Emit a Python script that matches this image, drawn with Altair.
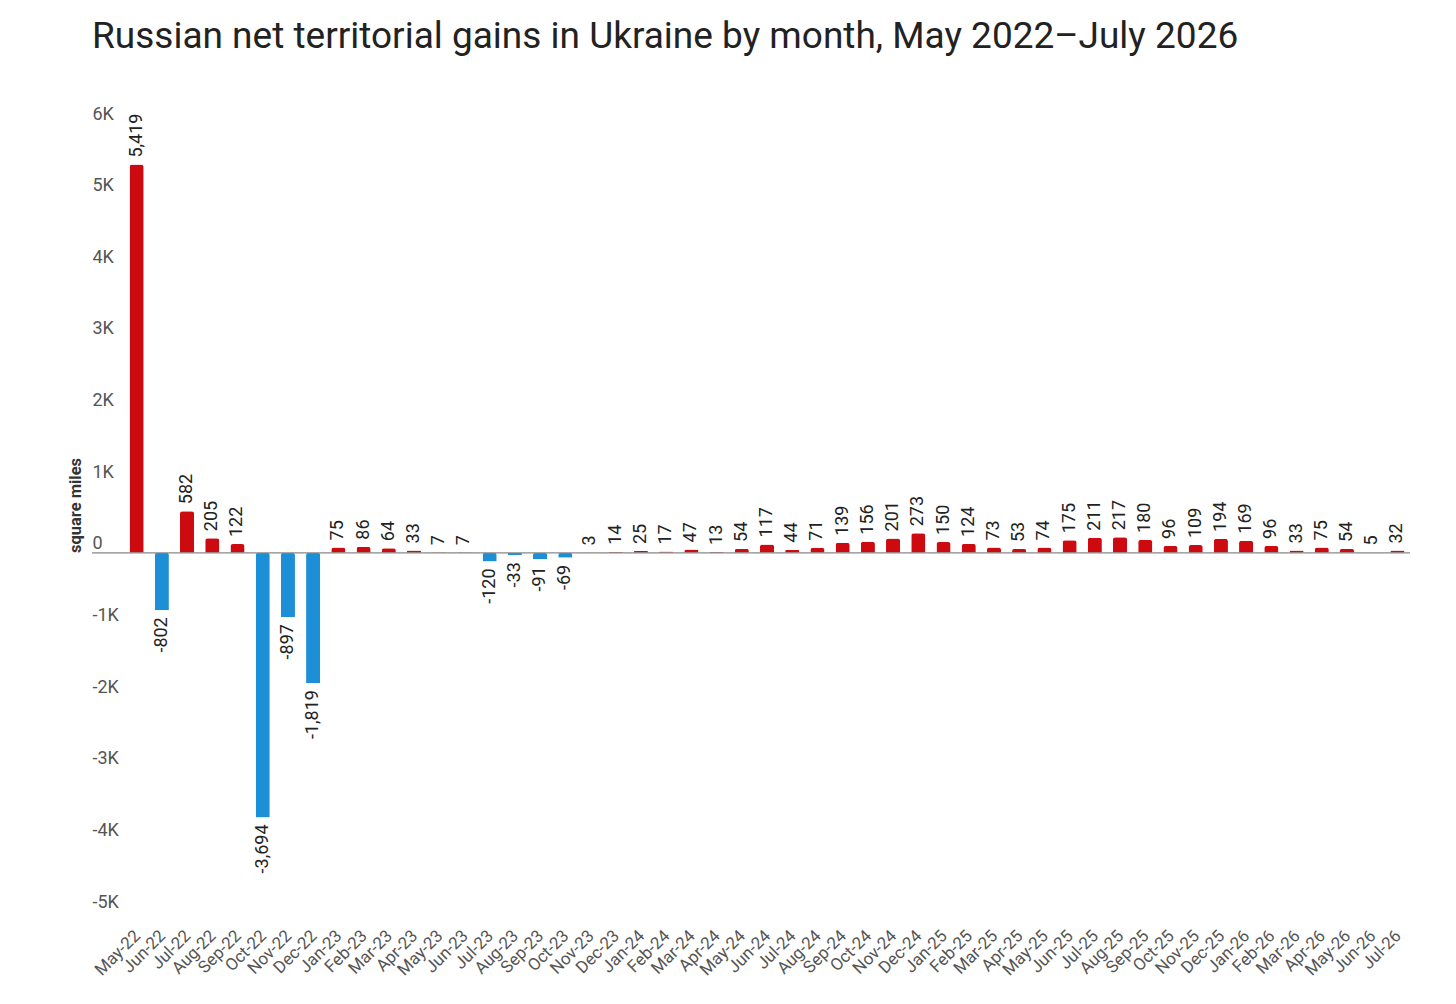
import altair as alt
import pandas as pd

months = ["May-22", "Jun-22", "Jul-22", "Aug-22", "Sep-22", "Oct-22", "Nov-22", "Dec-22",
          "Jan-23", "Feb-23", "Mar-23", "Apr-23", "May-23", "Jun-23", "Jul-23", "Aug-23",
          "Sep-23", "Oct-23", "Nov-23", "Dec-23",
          "Jan-24", "Feb-24", "Mar-24", "Apr-24", "May-24", "Jun-24", "Jul-24", "Aug-24",
          "Sep-24", "Oct-24", "Nov-24", "Dec-24",
          "Jan-25", "Feb-25", "Mar-25", "Apr-25", "May-25", "Jun-25", "Jul-25", "Aug-25",
          "Sep-25", "Oct-25", "Nov-25", "Dec-25",
          "Jan-26", "Feb-26", "Mar-26", "Apr-26", "May-26", "Jun-26", "Jul-26"]

gains = [5419, -802, 582, 205, 122, -3694, -897, -1819,
         75, 86, 64, 33, 7, 7, -120, -33, -91, -69, 3, 14,
         25, 17, 47, 13, 54, 117, 44, 71, 139, 156, 201, 273,
         150, 124, 73, 53, 74, 175, 211, 217, 180, 96, 109, 194,
         169, 96, 33, 75, 54, 5, 32]

y_ticks = [-5000, -4000, -3000, -2000, -1000, 0, 1000, 2000, 3000, 4000, 5000, 6000]

RED = "#cc0a0f"
BLUE = "#1c8fd6"

df = pd.DataFrame({"month": months, "value": gains})
df["sign"] = ["pos" if v >= 0 else "neg" for v in gains]
df["label"] = [f"{v:,}" for v in gains]

W, H = 1286, 788

x_enc = alt.X("month:N", sort=months,
              scale=alt.Scale(paddingInner=0.44, paddingOuter=0.22),
              axis=alt.Axis(title=None, labelAngle=-45, labelAlign="right",
                            labelBaseline="middle", labelPadding=22, labelOffset=1,
                            ticks=False, domain=False, labelFontSize=17,
                            labelColor="#555", labelFont="Roboto", labelOverlap=False))

y_scale = alt.Scale(domain=[-5000, 6000], nice=False, zero=True)

bars = alt.Chart(df).mark_bar(cornerRadiusEnd=2.5).encode(
    x=x_enc,
    y=alt.Y("value:Q", scale=y_scale,
            axis=alt.Axis(values=y_ticks, title="square miles", grid=False, ticks=False,
                          domain=False, labelAlign="left", labelPadding=32,
                          labelBaseline="alphabetic", labelOffset=-4,
                          labelExpr="datum.value == 0 ? '0' : (datum.value/1000) + 'K'",
                          labelFontSize=18, labelColor="#555", labelFont="Roboto",
                          labelFlush=False, labelOverlap=False,
                          titleFont="Roboto", titleFontSize=16.5, titleFontWeight="bold",
                          titleColor="#333", titleX=-49, titleY=382,
                          titleAlign="center", titleBaseline="middle")),
    color=alt.Color("sign:N", scale=alt.Scale(domain=["pos", "neg"], range=[RED, BLUE]),
                    legend=None),
)

pos_text = alt.Chart(df).transform_filter("datum.value >= 0").mark_text(
    angle=270, align="left", baseline="middle", dx=7, fontSize=18,
    font="Roboto", color="#222").encode(
    x=alt.X("month:N", sort=months),
    y=alt.Y("value:Q", scale=y_scale),
    text="label:N",
)

neg_text = alt.Chart(df).transform_filter("datum.value < 0").mark_text(
    angle=270, align="right", baseline="middle", dx=-7, fontSize=18,
    font="Roboto", color="#222").encode(
    x=alt.X("month:N", sort=months),
    y=alt.Y("value:Q", scale=y_scale),
    text="label:N",
)

zero = alt.Chart(pd.DataFrame({"z": [0]})).mark_rule(color="#888", strokeWidth=1.2).encode(
    y=alt.Y("z:Q", scale=y_scale),
    x=alt.value(-32),
    x2=alt.value(W),
)

chart = alt.layer(bars, zero, pos_text, neg_text).properties(
    width=W, height=H,
    title=alt.TitleParams(
        "Russian net territorial gains in Ukraine by month, May 2022\u2013July 2026",
        anchor="start", frame="group", dx=-32, fontSize=37, font="Roboto",
        fontWeight="normal", color="#222", offset=20, baseline="alphabetic"),
    autosize=alt.AutoSizeParams(type="none"),
    padding={"left": 116, "top": 115, "right": 30, "bottom": 80},
).configure_view(stroke=None)

chart.save("out.html", embed_options={"renderer": "svg", "actions": False})
